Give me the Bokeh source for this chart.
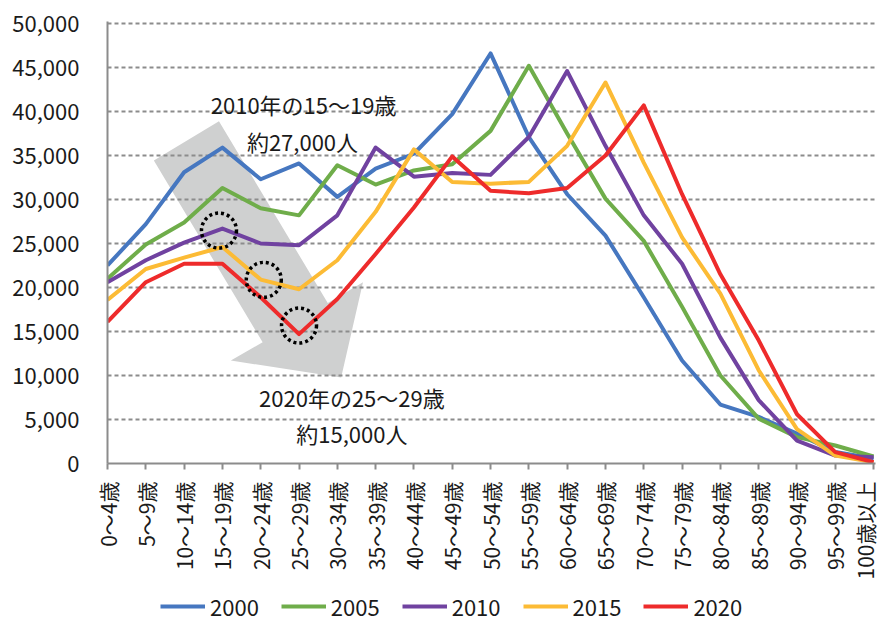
import math
from bokeh.plotting import figure
from bokeh.layouts import column
from bokeh.models import Range1d, FixedTicker, NumeralTickFormatter, Legend, LegendItem
from bokeh.core.properties import value
from bokeh.embed import file_html
from bokeh.resources import INLINE

age_labels = ["0～4歳", "5～9歳", "10～14歳", "15～19歳", "20～24歳", "25～29歳",
              "30～34歳", "35～39歳", "40～44歳", "45～49歳", "50～54歳", "55～59歳",
              "60～64歳", "65～69歳", "70～74歳", "75～79歳", "80～84歳", "85～89歳",
              "90～94歳", "95～99歳", "100歳以上"]

years = ["2000", "2005", "2010", "2015", "2020"]

pop_2000 = [22500, 27200, 33100, 35900, 32300, 34100, 30300, 33500, 35200, 39700, 46600,
            37100, 30600, 25900, 18900, 11700, 6700, 5300, 3400, 1300, 560]
pop_2005 = [21000, 24900, 27400, 31300, 29000, 28200, 33900, 31700, 33300, 34000, 37800,
            45200, 37500, 30100, 25300, 17800, 10000, 5100, 3000, 2050, 800]
pop_2010 = [20600, 23100, 25100, 26700, 25000, 24800, 28200, 35900, 32600, 33000, 32800,
            37100, 44600, 36100, 28200, 22700, 14300, 7200, 2600, 900, 700]
pop_2015 = [18600, 22100, 23400, 24600, 20900, 19800, 23100, 28600, 35700, 32000, 31800,
            32000, 36100, 43300, 34200, 25700, 19300, 10600, 3900, 900, 150]
pop_2020 = [16100, 20600, 22700, 22700, 18900, 14700, 18700, 23800, 29100, 34900, 31000,
            30700, 31300, 35000, 40700, 30600, 21500, 14000, 5600, 1300, 150]

series = [pop_2000, pop_2005, pop_2010, pop_2015, pop_2020]
colors = ["#4677C0", "#6FAD4A", "#7042A0", "#FCBB35", "#EE2B2B"]

y_ticks = list(range(0, 50001, 5000))

FONT = "Noto Sans CJK JP"

p = figure(frame_width=768, frame_height=442, output_backend="svg", toolbar_location=None,
           x_range=Range1d(0, 20.05), y_range=Range1d(0, 50230),
           min_border_left=107, min_border_top=21, min_border_right=4, min_border_bottom=0)
p.outline_line_color = None
p.background_fill_color = "white"

x_idx = list(range(len(age_labels)))

# gray arrow (behind grid)
arr_x = [1.21, 2.91, 5.75, 6.67, 6.10, 3.22, 4.05]
arr_y = [34430, 38900, 18240, 20600, 9770, 11700, 13780]
r = p.patch(arr_x, arr_y, fill_color="#CFD0D0", line_color=None)
r.level = "image"

# axes
p.xaxis.ticker = FixedTicker(ticks=x_idx)
p.xaxis.major_label_overrides = {i: lab for i, lab in enumerate(age_labels)}
p.xaxis.major_label_orientation = math.pi / 2
p.xaxis.major_label_text_font = FONT
p.xaxis.major_label_text_font_size = "21px"
p.xaxis.major_label_text_color = "#1a1a1a"
p.xaxis.axis_line_color = "#8c8c8c"
p.xaxis.axis_line_width = 2
p.xaxis.major_tick_line_color = "#8c8c8c"
p.xaxis.major_tick_line_width = 2
p.xaxis.major_tick_out = 6
p.xaxis.major_tick_in = 0
p.xaxis.minor_tick_line_color = None
p.xaxis.major_label_standoff = 12

p.yaxis.ticker = FixedTicker(ticks=y_ticks)
p.yaxis.formatter = NumeralTickFormatter(format="0,0")
p.yaxis.major_label_text_font = FONT
p.yaxis.major_label_text_font_size = "22px"
p.yaxis.major_label_text_color = "#1a1a1a"
p.yaxis.axis_line_color = "#8c8c8c"
p.yaxis.axis_line_width = 2
p.yaxis.major_tick_line_color = None
p.yaxis.minor_tick_line_color = None
p.yaxis.major_tick_out = 0
p.yaxis.major_tick_in = 0
p.yaxis.major_label_standoff = 28

p.xgrid.grid_line_color = None
p.ygrid.ticker = FixedTicker(ticks=y_ticks[1:])
p.ygrid.grid_line_color = "#8c8c8c"
p.ygrid.grid_line_width = 2
p.ygrid.grid_line_dash = "4 3"

for yr, vals, c in zip(years, series, colors):
    p.line(x_idx, vals, line_color=c, line_width=4, line_join="round")

# dotted circles
p.scatter([2.91, 4.08, 5.0], [26470, 20870, 15680], marker="circle", size=35,
          fill_color=None, line_color="black", line_width=3.5, line_dash="3 3")

# annotation texts
p.text([5.12, 5.09], [40800, 36700], text=["2010年の15～19歳", "約27,000人"],
       text_font=value(FONT), text_font_size="22px", text_color="#1a1a1a",
       text_align="center", text_baseline="middle")
p.text([6.38, 6.38], [7610, 3520], text=["2020年の25～29歳", "約15,000人"],
       text_font=value(FONT), text_font_size="22px", text_color="#1a1a1a",
       text_align="center", text_baseline="middle")

# legend in its own strip below the chart
lg = figure(width=879, height=40, output_backend="svg", toolbar_location=None,
            x_range=Range1d(0, 1), y_range=Range1d(0, 1),
            x_axis_location=None, y_axis_location=None, min_border=0)
lg.outline_line_color = None
lg.xgrid.visible = False
lg.ygrid.visible = False
items = []
for yr, c in zip(years, colors):
    # off-range proxy so the legend swatch has a line style; not visible in the strip
    rl = lg.line([-10, -9], [-10, -9], line_color=c, line_width=4)
    items.append(LegendItem(label=yr, renderers=[rl]))

legend = Legend(items=items, orientation="horizontal", location=(53, 0),
                glyph_width=45, glyph_height=20, label_standoff=5, spacing=22,
                label_text_font=FONT, label_text_font_size="22px",
                label_text_color="#1a1a1a", border_line_color=None,
                background_fill_alpha=0, padding=0, margin=0)
lg.add_layout(legend, "center")

layout = column(p, lg, spacing=0)
open("out.html", "w").write(file_html(layout, INLINE))
